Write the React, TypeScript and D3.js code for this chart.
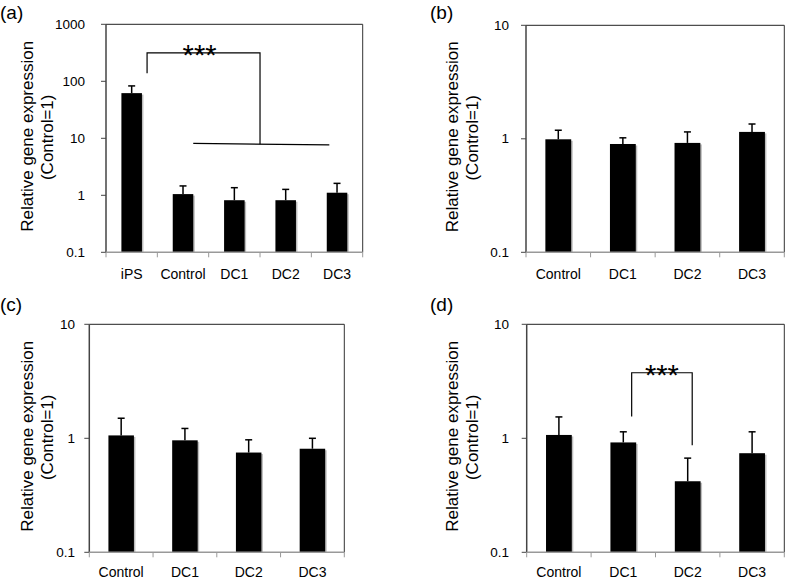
import React from "react";
import * as d3 from "d3";

const catsA = ["iPS", "Control", "DC1", "DC2", "DC3"];
const meansA = [62, 1.05, 0.82, 0.82, 1.11];
const errsA = [21, 0.41, 0.54, 0.45, 0.51];
const ticksA = [0.1, 1, 10, 100, 1000];

const catsBCD = ["Control", "DC1", "DC2", "DC3"];
const meansB = [0.99, 0.9, 0.92, 1.15];
const errsB = [0.2, 0.12, 0.23, 0.2];
const meansC = [1.06, 0.96, 0.75, 0.81];
const errsC = [0.44, 0.26, 0.22, 0.19];
const meansD = [1.07, 0.92, 0.42, 0.74];
const errsD = [0.47, 0.22, 0.25, 0.4];
const ticksBCD = [0.1, 1, 10];

const FONT = "Liberation Sans, Arial, sans-serif";

type Box = { x0: number; x1: number; y0: number; y1: number };

function Panel(props: {
  label: string;
  labelX: number;
  labelY: number;
  box: Box;
  cats: string[];
  means: number[];
  errs: number[];
  ticks: number[];
  yLabelX: number;
  tickRight: number;
  xLabelY: number;
  children?: (x: d3.ScaleBand<string>, y: d3.ScaleLogarithmic<number, number>) => React.ReactNode;
}) {
  const { box, cats, means, errs, ticks } = props;
  const x = d3.scaleBand<string>().domain(cats).range([box.x0, box.x1]).padding(0);
  const y = d3
    .scaleLog()
    .domain([ticks[0], ticks[ticks.length - 1]])
    .range([box.y1, box.y0]);
  const step = x.step();
  const bw = step * 0.4;
  const cy = (box.y0 + box.y1) / 2;
  return (
    <g>
      <text x={props.labelX} y={props.labelY} fontSize={19} fontFamily={FONT}>
        {props.label}
      </text>
      {/* frame */}
      <line x1={box.x0} x2={box.x1} y1={box.y0} y2={box.y0} stroke="#222" strokeWidth={1} />
      <line x1={box.x1} x2={box.x1} y1={box.y0} y2={box.y1} stroke="#333" strokeWidth={1} />
      {/* bars */}
      {cats.map((c, i) => {
        const cx = (x(c) as number) + step / 2;
        const top = y(means[i]);
        const et = y(means[i] + errs[i]);
        return (
          <g key={c}>
            <rect x={cx - bw / 2 + 1.5} y={top + 1.5} width={bw} height={box.y1 - top - 1.5} fill="#bdbdbd" />
            <rect x={cx - bw / 2} y={top} width={bw} height={box.y1 - top} fill="#000" />
            <line x1={cx} x2={cx} y1={top} y2={et} stroke="#000" strokeWidth={1.5} />
            <line x1={cx - 3.5} x2={cx + 3.5} y1={et} y2={et} stroke="#000" strokeWidth={1.5} />
          </g>
        );
      })}
      {/* left axis */}
      <line x1={box.x0} x2={box.x0} y1={box.y0} y2={box.y1} stroke="#444" strokeWidth={1.5} />
      {ticks.map((t) => (
        <g key={t}>
          <line x1={box.x0 - 5} x2={box.x0} y1={y(t)} y2={y(t)} stroke="#444" strokeWidth={1} />
          <text
            x={props.tickRight}
            y={y(t)}
            textAnchor="end"
            dominantBaseline="central"
            fontSize={13.5}
            fontFamily={FONT}
          >
            {t}
          </text>
        </g>
      ))}
      {/* bottom axis */}
      <line x1={box.x0} x2={box.x1} y1={box.y1} y2={box.y1} stroke="#999" strokeWidth={1.5} />
      {cats.map((c) => (
        <line key={"t" + c} x1={x(c) as number} x2={x(c) as number} y1={box.y1} y2={box.y1 + 5} stroke="#999" strokeWidth={1} />
      ))}
      <line x1={box.x1} x2={box.x1} y1={box.y1} y2={box.y1 + 5} stroke="#999" strokeWidth={1} />
      {cats.map((c) => (
        <text
          key={"l" + c}
          x={(x(c) as number) + step / 2}
          y={props.xLabelY}
          textAnchor="middle"
          fontSize={14}
          fontFamily={FONT}
        >
          {c}
        </text>
      ))}
      {/* y label */}
      <text
        transform={`translate(${props.yLabelX},${cy - 2}) rotate(-90)`}
        textAnchor="middle"
        dominantBaseline="central"
        fontSize={17}
        fontFamily={FONT}
      >
        Relative gene expression
      </text>
      <text
        transform={`translate(${props.yLabelX + 20},${cy - 1}) rotate(-90)`}
        textAnchor="middle"
        dominantBaseline="central"
        fontSize={17}
        fontFamily={FONT}
      >
        (Control=1)
      </text>
      {props.children ? props.children(x, y) : null}
    </g>
  );
}

export default function App() {
  return (
    <svg width={787} height={579} style={{ position: "absolute", left: 0, top: 0, background: "#fff" }}>
      <rect width={787} height={579} fill="#fff" />
      <Panel
        label="(a)"
        labelX={0}
        labelY={19}
        box={{ x0: 106, x1: 362.7, y0: 24.3, y1: 252.3 }}
        cats={catsA}
        means={meansA}
        errs={errsA}
        ticks={ticksA}
        yLabelX={27}
        tickRight={85}
        xLabelY={279}
      >
        {(x, y) => {
          const s = x.step();
          const xl = (x("iPS") as number) + s * 0.8;
          const xr = x("DC2") as number;
          const yt = y(316);
          const h1 = (x("Control") as number) + s * 0.7;
          const h2 = (x("DC3") as number) + s * 0.35;
          const yb = y(7.9);
          return (
            <g stroke="#000" strokeWidth={1.2} fill="none">
              <path d={`M${xl},${y(138)}V${yt}H${xr}V${yb}`} />
              <line x1={h1} x2={h2} y1={yb - 0.8} y2={yb + 0.8} />
              <text x={(xl + xr) / 2 - 4} y={yt + 12} textAnchor="middle" fontSize={29} fontFamily={FONT} fill="#000" stroke="none">
                ***
              </text>
            </g>
          );
        }}
      </Panel>
      <Panel
        label="(b)"
        labelX={430}
        labelY={19}
        box={{ x0: 526, x1: 784.3, y0: 25.3, y1: 252.3 }}
        cats={catsBCD}
        means={meansB}
        errs={errsB}
        ticks={ticksBCD}
        yLabelX={452}
        tickRight={509}
        xLabelY={279}
      />
      <Panel
        label="(c)"
        labelX={0}
        labelY={311}
        box={{ x0: 89.3, x1: 344.3, y0: 324.3, y1: 552.3 }}
        cats={catsBCD}
        means={meansC}
        errs={errsC}
        ticks={ticksBCD}
        yLabelX={27}
        tickRight={75}
        xLabelY={577}
      />
      <Panel
        label="(d)"
        labelX={430}
        labelY={311}
        box={{ x0: 526.7, x1: 784.3, y0: 324.3, y1: 552.3 }}
        cats={catsBCD}
        means={meansD}
        errs={errsD}
        ticks={ticksBCD}
        yLabelX={452}
        tickRight={509}
        xLabelY={577}
      >
        {(x, y) => {
          const s = x.step();
          const xl = (x("DC1") as number) + s * 0.63;
          const xr = (x("DC2") as number) + s * 0.57;
          const yt = y(3.76);
          return (
            <g stroke="#000" strokeWidth={1.2} fill="none">
              <path d={`M${xl},${y(1.55)}V${yt}H${xr}V${y(0.87)}`} />
              <text x={(xl + xr) / 2} y={yt + 12} textAnchor="middle" fontSize={29} fontFamily={FONT} fill="#000" stroke="none">
                ***
              </text>
            </g>
          );
        }}
      </Panel>
    </svg>
  );
}
